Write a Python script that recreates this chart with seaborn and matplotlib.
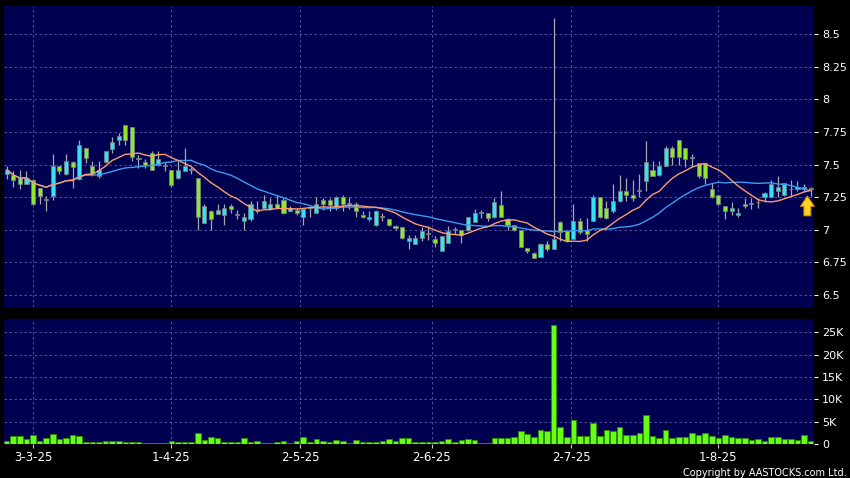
import numpy as np
import pandas as pd
import matplotlib
matplotlib.use("Agg")
import matplotlib.pyplot as plt
import seaborn as sns

# ---------------- data ----------------
opens = [7.43, 7.42, 7.40, 7.35, 7.38, 7.32, 7.23, 7.26, 7.49, 7.43,
         7.52, 7.39, 7.63, 7.49, 7.41, 7.52, 7.62, 7.69, 7.80, 7.79,
         7.54, 7.52, 7.59, 7.50, 7.50, 7.46, 7.40, 7.45, 7.46, 7.40,
         7.05, 7.14, 7.12, 7.11, 7.18, 7.11, 7.07, 7.08, 7.15, 7.17,
         7.16, 7.20, 7.23, 7.14, 7.15, 7.10, 7.17, 7.13, 7.23, 7.23,
         7.17, 7.25, 7.20, 7.20, 7.11, 7.08, 7.04, 7.10, 7.08, 7.03,
         7.02, 6.91, 6.89, 6.94, 6.97, 6.93, 6.84, 6.90, 7.00, 7.00,
         7.00, 7.06, 7.13, 7.13, 7.10, 7.19, 7.08, 7.04, 7.00, 6.86,
         6.82, 6.79, 6.89, 6.85, 7.06, 6.99, 6.93, 7.07, 7.00, 7.07,
         7.25, 7.17, 7.14, 7.22, 7.30, 7.27, 7.30, 7.37, 7.46, 7.42,
         7.49, 7.63, 7.69, 7.63, 7.55, 7.51, 7.51, 7.31, 7.27, 7.18,
         7.14, 7.11, 7.18, 7.20, 7.21, 7.25, 7.25, 7.30, 7.27, 7.31,
         7.31, 7.31, 7.32]
highs = [7.49, 7.45, 7.46, 7.45, 7.39, 7.32, 7.26, 7.58, 7.49, 7.58,
         7.53, 7.69, 7.63, 7.53, 7.53, 7.60, 7.71, 7.74, 7.80, 7.79,
         7.57, 7.54, 7.60, 7.60, 7.52, 7.46, 7.53, 7.63, 7.48, 7.40,
         7.20, 7.15, 7.20, 7.20, 7.20, 7.15, 7.13, 7.22, 7.22, 7.27,
         7.24, 7.27, 7.24, 7.18, 7.17, 7.17, 7.18, 7.25, 7.24, 7.24,
         7.26, 7.27, 7.25, 7.21, 7.14, 7.14, 7.15, 7.13, 7.08, 7.04,
         7.02, 6.96, 6.96, 7.02, 7.03, 6.95, 6.95, 7.03, 7.02, 7.00,
         7.10, 7.16, 7.15, 7.13, 7.24, 7.30, 7.09, 7.04, 7.00, 6.86,
         6.83, 6.90, 6.91, 8.62, 7.07, 7.00, 7.20, 7.09, 7.09, 7.27,
         7.25, 7.22, 7.35, 7.42, 7.40, 7.38, 7.43, 7.68, 7.53, 7.53,
         7.64, 7.64, 7.69, 7.63, 7.58, 7.51, 7.51, 7.36, 7.27, 7.18,
         7.21, 7.17, 7.24, 7.24, 7.24, 7.29, 7.38, 7.41, 7.36, 7.38,
         7.37, 7.35, 7.33]
lows = [7.39, 7.33, 7.31, 7.35, 7.19, 7.20, 7.14, 7.23, 7.43, 7.42,
        7.32, 7.38, 7.51, 7.41, 7.40, 7.51, 7.59, 7.65, 7.65, 7.53,
        7.47, 7.47, 7.46, 7.49, 7.45, 7.33, 7.39, 7.45, 7.43, 7.00,
        7.05, 7.00, 7.12, 7.04, 7.13, 7.08, 7.00, 7.07, 7.13, 7.17,
        7.15, 7.16, 7.12, 7.14, 7.11, 7.04, 7.10, 7.13, 7.15, 7.14,
        7.15, 7.14, 7.16, 7.10, 7.09, 7.07, 7.03, 7.07, 7.03, 7.00,
        6.93, 6.85, 6.89, 6.91, 6.92, 6.87, 6.84, 6.90, 6.97, 6.90,
        6.99, 7.06, 7.09, 7.07, 7.09, 7.10, 7.00, 6.99, 6.87, 6.82,
        6.78, 6.79, 6.84, 6.85, 6.91, 6.91, 6.93, 6.97, 6.91, 7.07,
        7.09, 7.08, 7.13, 7.21, 7.22, 7.22, 7.25, 7.30, 7.41, 7.41,
        7.49, 7.50, 7.50, 7.48, 7.48, 7.40, 7.35, 7.24, 7.19, 7.08,
        7.11, 7.10, 7.17, 7.16, 7.17, 7.21, 7.25, 7.25, 7.26, 7.26,
        7.30, 7.30, 7.26]
closes = [7.46, 7.38, 7.35, 7.40, 7.20, 7.26, 7.23, 7.49, 7.45, 7.53,
          7.48, 7.65, 7.55, 7.43, 7.46, 7.60, 7.67, 7.72, 7.69, 7.56,
          7.55, 7.50, 7.46, 7.54, 7.49, 7.34, 7.46, 7.49, 7.46, 7.10,
          7.18, 7.08, 7.15, 7.17, 7.16, 7.12, 7.10, 7.20, 7.15, 7.22,
          7.20, 7.17, 7.13, 7.17, 7.13, 7.16, 7.17, 7.20, 7.20, 7.19,
          7.25, 7.20, 7.20, 7.14, 7.10, 7.10, 7.14, 7.10, 7.04, 7.01,
          6.94, 6.94, 6.94, 6.99, 6.97, 6.90, 6.95, 6.99, 7.00, 6.96,
          7.10, 7.13, 7.13, 7.09, 7.21, 7.10, 7.04, 7.00, 6.87, 6.84,
          6.78, 6.89, 6.85, 6.93, 6.98, 6.91, 7.07, 6.98, 6.97, 7.25,
          7.10, 7.09, 7.22, 7.30, 7.27, 7.24, 7.30, 7.52, 7.41, 7.49,
          7.63, 7.56, 7.56, 7.54, 7.55, 7.41, 7.40, 7.25, 7.20, 7.14,
          7.17, 7.13, 7.20, 7.20, 7.21, 7.28, 7.35, 7.33, 7.36, 7.31,
          7.33, 7.33, 7.31]
volumes = [700, 1900, 1700, 1100, 2100, 750, 1400, 2250, 1050, 1400,
           2000, 1900, 400, 400, 400, 600, 750, 700, 500, 400,
           500, 200, 200, 200, 300, 700, 450, 450, 450, 2500,
           900, 1500, 1350, 500, 500, 500, 1400, 500, 750, 300,
           200, 500, 750, 300, 750, 1600, 450, 1200, 600, 450,
           900, 700, 200, 900, 450, 450, 450, 700, 1200, 750,
           1300, 1400, 500, 450, 400, 400, 600, 1100, 500, 800,
           1200, 1000, 300, 300, 1400, 1350, 1300, 1650, 3000, 2200,
           1600, 3150, 3000, 26700, 3900, 1650, 5400, 1900, 1900, 4800,
           1900, 3200, 2850, 3700, 2000, 2000, 2550, 6400, 1900, 1300,
           3150, 1400, 1600, 1650, 2500, 2000, 2550, 1900, 1300, 2100,
           1650, 1350, 1300, 900, 1200, 750, 1500, 1500, 1050, 1050,
           1000, 2000, 600]

date_tick_pos = [4, 25, 44.5, 64.5, 85.7, 108]
date_tick_labels = ["3-3-25", "1-4-25", "2-5-25", "2-6-25", "2-7-25", "1-8-25"]
price_ticks = [6.5, 6.75, 7.0, 7.25, 7.5, 7.75, 8.0, 8.25, 8.5]
price_tick_labels = ["6.5", "6.75", "7", "7.25", "7.5", "7.75", "8", "8.25", "8.5"]
vol_ticks = [0, 5000, 10000, 15000, 20000, 25000]
vol_tick_labels = ["0", "5K", "10K", "15K", "20K", "25K"]

# ---------------- styling ----------------
NAVY = "#000050"
GRID = "#5c5ca6"
UP = "#33e3f2"
DOWN = "#8ee82c"
FLAT = "#b0b0b0"

sns.set_style("dark", {"axes.facecolor": NAVY, "figure.facecolor": "black"})
plt.rcParams["font.family"] = ["DejaVu Sans"]

df = pd.DataFrame({"idx": np.arange(len(closes)), "open": opens, "high": highs,
                   "low": lows, "close": closes, "volume": volumes})
df["ma10"] = df["close"].rolling(10, min_periods=1).mean()
df["ma20"] = df["close"].rolling(20, min_periods=1).mean()

fig = plt.figure(figsize=(8.5, 4.78), dpi=100, facecolor="black")
ax = fig.add_axes([0.0047, 0.3584, 0.9529, 0.629])
axv = fig.add_axes([0.0047, 0.0711, 0.9529, 0.2615])

xlim = (-0.41, 122.5)

# ---- price panel ----
for a in (ax, axv):
    a.set_facecolor(NAVY)
    for s in a.spines.values():
        s.set_visible(False)

for y in price_ticks:
    ax.axhline(y, color=GRID, lw=0.6, ls=(0, (3, 3)), zorder=0)
for x in date_tick_pos:
    ax.axvline(x, color=GRID, lw=0.6, ls=(0, (3, 3)), zorder=0)

colors = [UP if c > o else (DOWN if c < o else FLAT) for o, c in zip(df["open"], df["close"])]
body_bottom = np.minimum(df["open"], df["close"])
body_h = np.maximum(np.abs(df["close"] - df["open"]), 0.006)

ax.vlines(df["idx"], df["low"], df["high"], color="#a8a8a8", lw=0.9, zorder=2)
ax.bar(df["idx"], body_h, bottom=body_bottom, width=0.62, color=colors,
       edgecolor="#6f7f7f", linewidth=0.6, zorder=3)

sns.lineplot(data=df, x="idx", y="ma20", color="#3a9cf0", lw=1.0, ax=ax, zorder=4)
sns.lineplot(data=df, x="idx", y="ma10", color="#ff9a6a", lw=1.0, ax=ax, zorder=4)

ax.annotate("", xy=(121.5, 7.28), xytext=(121.5, 7.085),
            arrowprops=dict(arrowstyle="simple,head_length=0.75,head_width=1.0,tail_width=0.5",
                            fc="#ffd21f", ec="#c88a00", lw=0.7), zorder=6)

ax.set_xlim(*xlim)
ax.set_ylim(6.41, 8.715)
ax.yaxis.tick_right()
ax.set_yticks(price_ticks)
ax.set_yticklabels(price_tick_labels)
ax.tick_params(axis="y", colors="white", labelcolor="white", labelsize=8,
               length=3, width=0.8, pad=3, direction="out", right=True, left=False)
ax.tick_params(axis="x", bottom=False, labelbottom=False)
ax.set_xlabel("")
ax.set_ylabel("")

# ---- volume panel ----
for y in vol_ticks[1:]:
    axv.axhline(y, color=GRID, lw=0.6, ls=(0, (3, 3)), zorder=0)
for x in date_tick_pos:
    axv.axvline(x, color=GRID, lw=0.6, ls=(0, (3, 3)), zorder=0)

sns.barplot(data=df, x="idx", y="volume", native_scale=True, color="#66ff14",
            saturation=1, edgecolor="#2c8a00", linewidth=0.6, width=0.85,
            ax=axv, zorder=3)

axv.set_xlim(*xlim)
axv.set_ylim(0, 28000)
axv.yaxis.tick_right()
axv.set_yticks(vol_ticks)
axv.set_yticklabels(vol_tick_labels)
axv.set_xticks(date_tick_pos)
axv.set_xticklabels(date_tick_labels)
axv.tick_params(axis="y", colors="white", labelcolor="white", labelsize=8,
                length=3, width=0.8, pad=3, direction="out", right=True, left=False)
axv.tick_params(axis="x", colors="#cccccc", labelcolor="white", labelsize=8.5,
                length=3, width=0.8, pad=2, direction="out", bottom=True)
axv.set_xlabel("")
axv.set_ylabel("")

fig.text(0.996, 0.001, "Copyright by AASTOCKS.com Ltd.", ha="right", va="bottom",
         color="white", fontsize=7)

fig.savefig("out.png", dpi=100, facecolor="black")
